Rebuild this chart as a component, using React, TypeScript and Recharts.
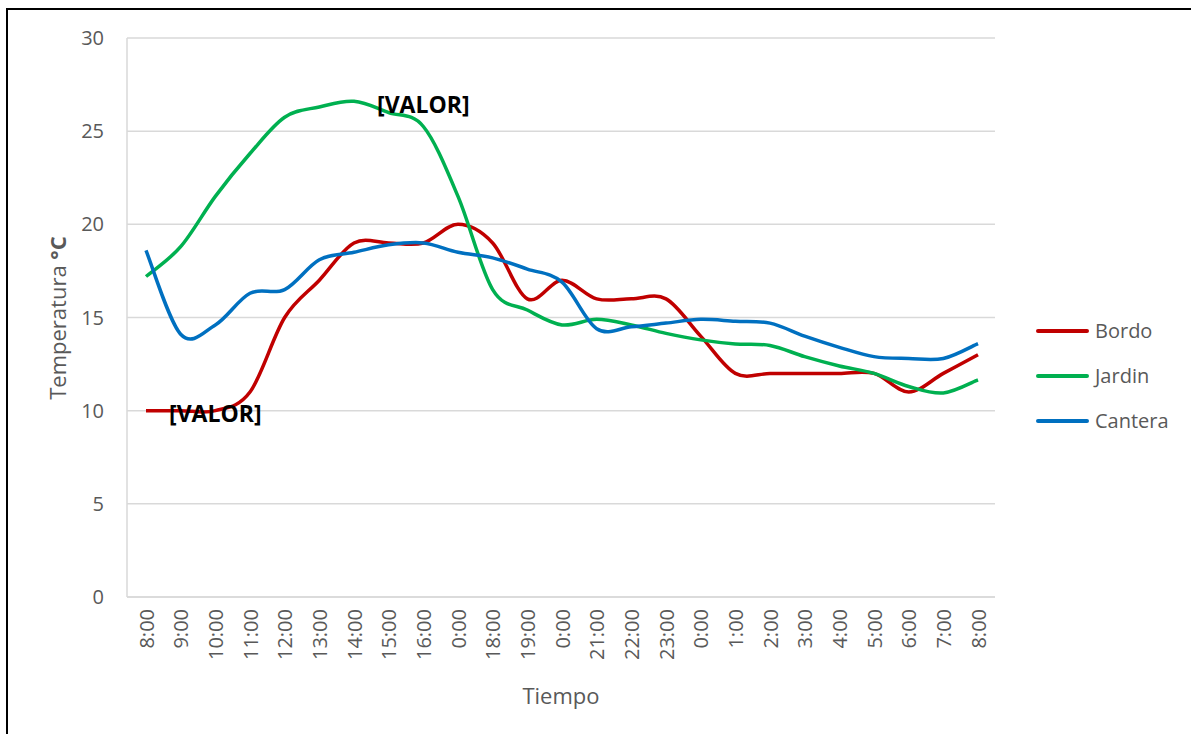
import React from "react";
import { LineChart, Line, XAxis, YAxis, CartesianGrid, LabelList } from "recharts";

// Hour labels along the time axis (the logger repeats some labels)
const horas = [
  "8:00", "9:00", "10:00", "11:00", "12:00", "13:00", "14:00", "15:00", "16:00",
  "0:00", "18:00", "19:00", "0:00", "21:00", "22:00", "23:00", "0:00",
  "1:00", "2:00", "3:00", "4:00", "5:00", "6:00", "7:00", "8:00",
];

const bordo = [10, 10, 10, 11, 15, 17, 19, 19, 19, 20, 19, 16, 17, 16, 16, 16, 14, 12, 12, 12, 12, 12, 11, 12, 13];
const jardin = [17.2, 18.8, 21.5, 23.8, 25.75, 26.3, 26.6, 26, 25.25, 21.5, 16.5, 15.4, 14.6, 14.9, 14.6, 14.15, 13.8, 13.58, 13.5, 12.9, 12.4, 12, 11.3, 10.95, 11.65];
const cantera = [18.6, 14.1, 14.6, 16.3, 16.5, 18.1, 18.5, 18.9, 19, 18.5, 18.2, 17.6, 16.9, 14.4, 14.5, 14.7, 14.9, 14.8, 14.7, 14, 13.4, 12.9, 12.8, 12.8, 13.6];

const yTicks = [0, 5, 10, 15, 20, 25, 30];

const series = [
  { key: "bordo", name: "Bordo", color: "#C00000", labelIndex: 2, labelPos: "center" },
  { key: "jardin", name: "Jardin", color: "#00B050", labelIndex: 8, labelPos: "above" },
  { key: "cantera", name: "Cantera", color: "#0070C0", labelIndex: -1, labelPos: "" },
];

const data = horas.map((h, i) => ({
  i,
  hora: h,
  bordo: bordo[i],
  jardin: jardin[i],
  cantera: cantera[i],
}));

const FONT = "'Open Sans', 'Liberation Sans', sans-serif";
const GREY_TEXT = "#595959";
const GRID = "#D9D9D9";

// Smoothed line: cubic Bezier segments with control points at 1/6 of the
// neighbouring chord, the usual spreadsheet "smoothed line" look.
function smoothCurve(context: any) {
  let pts: [number, number][] = [];
  return {
    areaStart() {},
    areaEnd() {},
    lineStart() {
      pts = [];
    },
    point(x: number, y: number) {
      pts.push([+x, +y]);
    },
    lineEnd() {
      if (!pts.length) return;
      context.moveTo(pts[0][0], pts[0][1]);
      if (pts.length === 1) return;
      for (let k = 0; k < pts.length - 1; k++) {
        const p0 = pts[k - 1] || pts[k];
        const p1 = pts[k];
        const p2 = pts[k + 1];
        const p3 = pts[k + 2] || p2;
        const c1x = p1[0] + (p2[0] - p0[0]) / 6;
        const c1y = p1[1] + (p2[1] - p0[1]) / 6;
        const c2x = p2[0] - (p3[0] - p1[0]) / 6;
        const c2y = p2[1] - (p3[1] - p1[1]) / 6;
        context.bezierCurveTo(c1x, c1y, c2x, c2y, p2[0], p2[1]);
      }
    },
  };
}

const HourTick = (props: any) => {
  const { x, y, payload } = props;
  return (
    <text
      transform={`translate(${x},${y + 12}) rotate(-90)`}
      textAnchor="end"
      dominantBaseline="central"
      fontSize={20}
      fontFamily={FONT}
      fill={GREY_TEXT}
    >
      {horas[payload.value]}
    </text>
  );
};

const makeValueLabel = (idx: number, pos: string) => (props: any) => {
  const { x, y, index } = props;
  if (index !== idx) return null;
  const dy = pos === "above" ? -23 : 2;
  return (
    <text
      x={x}
      y={y + dy}
      textAnchor="middle"
      dominantBaseline="central"
      fontSize={23}
      fontWeight="bold"
      fontFamily={FONT}
      fill="#000000"
    >
      [VALOR]
    </text>
  );
};

export default function App() {
  return (
    <div
      style={{
        position: "absolute",
        left: 0,
        top: 0,
        width: 1191,
        height: 734,
        overflow: "hidden",
        background: "#ffffff",
        fontFamily: FONT,
      }}
    >
      <div
        style={{
          position: "absolute",
          left: 6,
          top: 8,
          width: 1300,
          height: 800,
          borderLeft: "2px solid #000",
          borderTop: "2px solid #000",
          boxSizing: "border-box",
        }}
      />
      <div style={{ position: "absolute", left: 0, top: 0 }}>
        <LineChart
          width={1191}
          height={734}
          data={data}
          margin={{ top: 38, right: 196, bottom: 0, left: 0 }}
        >
          <CartesianGrid vertical={false} stroke={GRID} strokeWidth={1.5} />
          <XAxis
            dataKey="i"
            type="category"
            height={137}
            interval={0}
            padding={{ left: 19, right: 17 }}
            tickSize={0}
            tickMargin={0}
            tick={<HourTick />}
            stroke={GRID}
            strokeWidth={1.5}
            label={{
              content: () => (
                <text
                  x={561}
                  y={695}
                  textAnchor="middle"
                  dominantBaseline="central"
                  fontSize={22}
                  fontFamily={FONT}
                  fill={GREY_TEXT}
                >
                  Tiempo
                </text>
              ),
            }}
          />
          <YAxis
            width={127}
            domain={[0, 30]}
            ticks={yTicks}
            interval={0}
            tickSize={0}
            tickMargin={23}
            tick={{ fontSize: 20, fill: GREY_TEXT, fontFamily: FONT }}
            stroke={GRID}
            strokeWidth={1.5}
            label={{
              content: () => (
                <text
                  transform="translate(57,318) rotate(-90)"
                  textAnchor="middle"
                  dominantBaseline="central"
                  fontSize={22}
                  fontFamily={FONT}
                  fill={GREY_TEXT}
                >
                  Temperatura <tspan fontWeight="bold">°C</tspan>
                </text>
              ),
            }}
          />
          {series.map((s) => (
            <Line
              key={s.key}
              dataKey={s.key}
              name={s.name}
              type={smoothCurve as any}
              stroke={s.color}
              strokeWidth={3.5}
              dot={false}
              activeDot={false}
              isAnimationActive={false}
            >
              {s.labelIndex >= 0 && (
                <LabelList dataKey={s.key} content={makeValueLabel(s.labelIndex, s.labelPos)} />
              )}
            </Line>
          ))}
        </LineChart>
      </div>
      <div style={{ position: "absolute", left: 1036, top: 308 }}>
        {series.map((s) => (
          <div
            key={s.key}
            style={{ display: "flex", alignItems: "center", height: 45, marginTop: 0 }}
          >
            <div
              style={{
                width: 53,
                height: 4,
                borderRadius: 2,
                background: s.color,
                marginRight: 6,
              }}
            />
            <span style={{ fontSize: 20, color: GREY_TEXT, fontFamily: FONT, lineHeight: "28px" }}>
              {s.name}
            </span>
          </div>
        ))}
      </div>
    </div>
  );
}
